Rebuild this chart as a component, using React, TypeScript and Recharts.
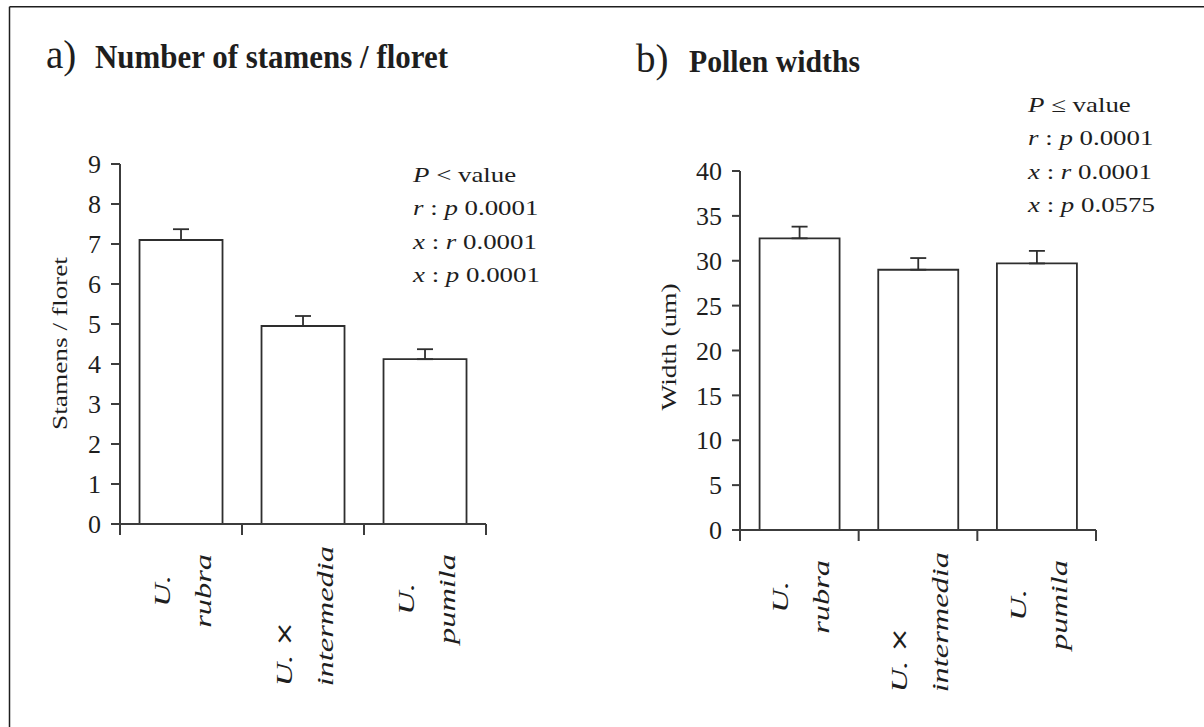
import React from 'react';
import { BarChart, Bar, XAxis, YAxis, ErrorBar } from 'recharts';

// ---------- data ----------
const categories = ['U. rubra', 'U. × intermedia', 'U. pumila'];
const categoryLines = [
  ['U.', 'rubra'],
  ['U. ×', 'intermedia'],
  ['U.', 'pumila'],
];
const stamensMean = [7.1, 4.95, 4.12];
const stamensErr = [0.27, 0.25, 0.25];
const pollenMean = [32.5, 29.0, 29.7];
const pollenErr = [1.3, 1.3, 1.4];
const stamensTicks = [0, 1, 2, 3, 4, 5, 6, 7, 8, 9];
const pollenTicks = [0, 5, 10, 15, 20, 25, 30, 35, 40];
const stamensNotes = [
  ['P', ' < value'],
  ['r', ' : ', 'p', ' 0.0001'],
  ['x', ' : ', 'r', ' 0.0001'],
  ['x', ' : ', 'p', ' 0.0001'],
];
const pollenNotes = [
  ['P', ' ≤ value'],
  ['r', ' : ', 'p', ' 0.0001'],
  ['x', ' : ', 'r', ' 0.0001'],
  ['x', ' : ', 'p', ' 0.0575'],
];

const stamensData = categories.map((name, i) => ({
  name,
  mean: stamensMean[i],
  err: [0, stamensErr[i]],
}));
const pollenData = categories.map((name, i) => ({
  name,
  mean: pollenMean[i],
  err: [0, pollenErr[i]],
}));

// ---------- style ----------
const SERIF = "'Liberation Serif', 'Times New Roman', serif";
const SANS = "'DejaVu Sans', 'Liberation Sans', sans-serif";
const INK = '#1e1e1e';
const AXIS = '#3c3c3c';
const LABEL_FONT = 24;
const LABEL_STRETCH = 1.35;
const LINE_OFFSETS = [-11, 30];
const TICK_ALIGN = ['middle', 'start', 'middle'];

let ctx: CanvasRenderingContext2D | null = null;
function measure(text: string, font: string): number {
  if (typeof document === 'undefined') return text.length * 11;
  if (!ctx) ctx = document.createElement('canvas').getContext('2d');
  if (!ctx) return text.length * 11;
  ctx.font = font;
  return ctx.measureText(text).width;
}

function makeCatTick(bandHalf: number) {
  return function CatTick(props: any) {
    const { x, y, payload } = props;
    let idx = typeof props.index === 'number' ? props.index : categories.indexOf(payload?.value);
    if (idx < 0) idx = 0;
    const lines = categoryLines[idx];
    const lens = lines.map(
      (l) => measure(l, `italic ${LABEL_FONT}px 'Liberation Serif'`) * LABEL_STRETCH
    );
    const maxLen = Math.max(...lens);
    const align = TICK_ALIGN[idx];
    const ay = align === 'middle' ? y + 30 + maxLen / 2 : y + 22 + maxLen;
    return (
      <g>
        <line x1={x - bandHalf} x2={x - bandHalf} y1={y} y2={y + 11} stroke={AXIS} strokeWidth={2} />
        {idx === categories.length - 1 && (
          <line x1={x + bandHalf} x2={x + bandHalf} y1={y} y2={y + 11} stroke={AXIS} strokeWidth={2} />
        )}
        {lines.map((l, k) => {
          const parts = l.split('×');
          return (
            <text
              key={k}
              transform={`translate(${x + LINE_OFFSETS[k]},${ay}) rotate(-90) scale(${LABEL_STRETCH},1)`}
              textAnchor={align}
              fontFamily={SERIF}
              fontSize={LABEL_FONT}
              fontStyle="italic"
              fill={INK}
            >
              {parts.length > 1 ? (
                <>
                  {parts[0]}
                  <tspan fontStyle="normal" fontFamily={SANS} fontSize={LABEL_FONT * 0.95}>×</tspan>
                  {parts[1]}
                </>
              ) : (
                l
              )}
            </text>
          );
        })}
      </g>
    );
  };
}

function Notes({ x, y, lines }: { x: number; y: number; lines: string[][] }) {
  return (
    <g>
      {lines.map((segs, i) => (
        <text
          key={i}
          transform={`translate(${x},${y + i * 33.4}) scale(1.28,1)`}
          fontFamily={SERIF}
          fontSize={21}
          fill={INK}
        >
          {segs.map((s, k) => (
            <tspan key={k} fontStyle={k % 2 === 0 ? 'italic' : 'normal'} style={{ whiteSpace: 'pre' }}>
              {s}
            </tspan>
          ))}
        </text>
      ))}
    </g>
  );
}

const yTick = { fontSize: 26, fill: INK, fontFamily: SERIF };

const LeftTick = makeCatTick((486 - 120) / 3 / 2);
const RightTick = makeCatTick((1096 - 740) / 3 / 2);

export default function App() {
  return (
    <div
      style={{
        position: 'absolute',
        left: 0,
        top: 0,
        width: 1204,
        height: 727,
        background: '#fff',
        overflow: 'hidden',
        fontFamily: SERIF,
      }}
    >
      <div style={{ position: 'absolute', left: 0, top: 0 }}>
        <BarChart
          width={600}
          height={727}
          data={stamensData}
          margin={{ top: 164, right: 114, bottom: 3, left: 0 }}
          barCategoryGap="16%"
        >
          <XAxis
            dataKey="name"
            interval={0}
            height={200}
            tickLine={false}
            tickSize={0}
            tickMargin={0}
            axisLine={{ stroke: AXIS, strokeWidth: 2 }}
            tick={<LeftTick />}
          />
          <YAxis
            width={120}
            domain={[0, 9]}
            ticks={stamensTicks}
            interval={0}
            tick={yTick}
            tickSize={9}
            tickMargin={10}
            axisLine={{ stroke: AXIS, strokeWidth: 2 }}
            tickLine={{ stroke: AXIS, strokeWidth: 2 }}
          />
          <Bar dataKey="mean" fill="#fff" stroke="#2e2e2e" strokeWidth={1.8} isAnimationActive={false}>
            <ErrorBar dataKey="err" direction="y" width={8} stroke="#2e2e2e" strokeWidth={1.8} isAnimationActive={false} />
          </Bar>
        </BarChart>
      </div>

      <div style={{ position: 'absolute', left: 600, top: 0 }}>
        <BarChart
          width={604}
          height={727}
          data={pollenData}
          margin={{ top: 171, right: 108, bottom: 3, left: 0 }}
          barCategoryGap="16.5%"
        >
          <XAxis
            dataKey="name"
            interval={0}
            height={194}
            tickLine={false}
            tickSize={0}
            tickMargin={0}
            axisLine={{ stroke: AXIS, strokeWidth: 2 }}
            tick={<RightTick />}
          />
          <YAxis
            width={140}
            domain={[0, 40]}
            ticks={pollenTicks}
            interval={0}
            tick={yTick}
            tickSize={8}
            tickMargin={10}
            axisLine={{ stroke: AXIS, strokeWidth: 2 }}
            tickLine={{ stroke: AXIS, strokeWidth: 2 }}
          />
          <Bar dataKey="mean" fill="#fff" stroke="#2e2e2e" strokeWidth={1.8} isAnimationActive={false}>
            <ErrorBar dataKey="err" direction="y" width={8} stroke="#2e2e2e" strokeWidth={1.8} isAnimationActive={false} />
          </Bar>
        </BarChart>
      </div>

      <svg
        width={1204}
        height={727}
        style={{ position: 'absolute', left: 0, top: 0, pointerEvents: 'none' }}
      >
        {/* frame */}
        <line x1={9.5} y1={6.7} x2={1204} y2={6.7} stroke={INK} strokeWidth={1.5} />
        <line x1={9.5} y1={6.7} x2={9.5} y2={727} stroke={INK} strokeWidth={1.5} />

        {/* titles */}
        <text x={46} y={68} fontFamily={SERIF} fontSize={39} fill={INK}>a)</text>
        <text
          x={95}
          y={68}
          fontFamily={SERIF}
          fontSize={33}
          fontWeight="bold"
          fill={INK}
          textLength={353}
          lengthAdjust="spacingAndGlyphs"
        >
          Number of stamens / floret
        </text>
        <text x={636} y={72} fontFamily={SERIF} fontSize={39} fill={INK}>b)</text>
        <text
          x={689}
          y={72}
          fontFamily={SERIF}
          fontSize={32}
          fontWeight="bold"
          fill={INK}
          textLength={171}
          lengthAdjust="spacingAndGlyphs"
        >
          Pollen widths
        </text>

        {/* y-axis titles */}
        <text
          transform="translate(66.5,343.5) rotate(-90) scale(1.3,1)"
          textAnchor="middle"
          fontFamily={SERIF}
          fontSize={21}
          fill={INK}
        >
          Stamens / floret
        </text>
        <text
          transform="translate(676,347) rotate(-90) scale(1.3,1)"
          textAnchor="middle"
          fontFamily={SERIF}
          fontSize={21}
          fill={INK}
        >
          Width (um)
        </text>

        {/* p-value notes */}
        <Notes x={413} y={182} lines={stamensNotes} />
        <Notes x={1028} y={112} lines={pollenNotes} />
      </svg>
    </div>
  );
}
